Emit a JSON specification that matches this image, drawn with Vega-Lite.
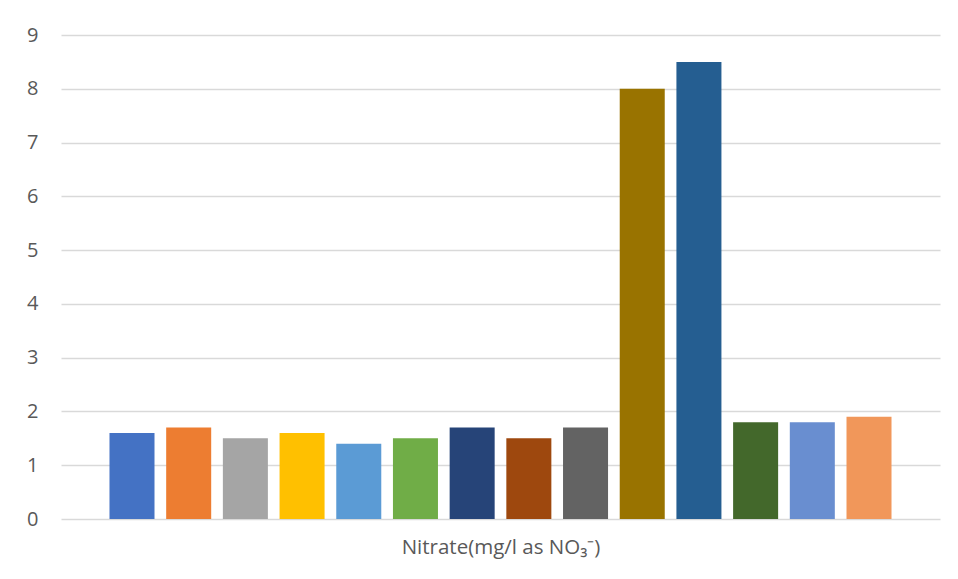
{
  "$schema": "https://vega.github.io/schema/vega-lite/v6.json",
  "width": 879,
  "height": 484,
  "autosize": {"type": "none"},
  "padding": {"left": 61, "top": 35, "right": 18, "bottom": 60},
  "background": "#ffffff",
  "config": {
    "view": {"stroke": null},
    "font": "Open Sans"
  },
  "data": {
    "values": [
      {"category": "Nitrate(mg/l as NO₃⁻)", "series": "S01", "value": 1.6},
      {"category": "Nitrate(mg/l as NO₃⁻)", "series": "S02", "value": 1.7},
      {"category": "Nitrate(mg/l as NO₃⁻)", "series": "S03", "value": 1.5},
      {"category": "Nitrate(mg/l as NO₃⁻)", "series": "S04", "value": 1.6},
      {"category": "Nitrate(mg/l as NO₃⁻)", "series": "S05", "value": 1.4},
      {"category": "Nitrate(mg/l as NO₃⁻)", "series": "S06", "value": 1.5},
      {"category": "Nitrate(mg/l as NO₃⁻)", "series": "S07", "value": 1.7},
      {"category": "Nitrate(mg/l as NO₃⁻)", "series": "S08", "value": 1.5},
      {"category": "Nitrate(mg/l as NO₃⁻)", "series": "S09", "value": 1.7},
      {"category": "Nitrate(mg/l as NO₃⁻)", "series": "S10", "value": 8.0},
      {"category": "Nitrate(mg/l as NO₃⁻)", "series": "S11", "value": 8.5},
      {"category": "Nitrate(mg/l as NO₃⁻)", "series": "S12", "value": 1.8},
      {"category": "Nitrate(mg/l as NO₃⁻)", "series": "S13", "value": 1.8},
      {"category": "Nitrate(mg/l as NO₃⁻)", "series": "S14", "value": 1.9}
    ]
  },
  "mark": {"type": "bar"},
  "encoding": {
    "x": {
      "field": "category",
      "type": "nominal",
      "scale": {"paddingInner": 0, "paddingOuter": 0.062},
      "axis": {
        "title": "Nitrate(mg/l as NO₃⁻)",
        "labels": false,
        "ticks": false,
        "domain": false,
        "titleFont": "Open Sans",
        "titleFontSize": 20.5,
        "titleFontWeight": "normal",
        "titleColor": "#595959",
        "titlePadding": 18
      }
    },
    "xOffset": {
      "field": "series",
      "type": "nominal",
      "scale": {"paddingInner": 0.206, "paddingOuter": 0}
    },
    "y": {
      "field": "value",
      "type": "quantitative",
      "scale": {"domain": [0, 9], "nice": false},
      "axis": {
        "title": null,
        "values": [0, 1, 2, 3, 4, 5, 6, 7, 8, 9],
        "format": "d",
        "domain": false,
        "ticks": false,
        "grid": true,
        "gridColor": "#D9D9D9",
        "gridWidth": 1.5,
        "labelFont": "Open Sans",
        "labelFontSize": 20,
        "labelColor": "#595959",
        "labelPadding": 23
      }
    },
    "color": {
      "field": "series",
      "type": "nominal",
      "legend": null,
      "scale": {
        "range": ["#4472C4", "#ED7D31", "#A5A5A5", "#FFC000", "#5B9BD5", "#70AD47", "#264478", "#9E480E", "#636363", "#997300", "#255E91", "#43682B", "#698ED0", "#F1975A"]
      }
    }
  }
}
